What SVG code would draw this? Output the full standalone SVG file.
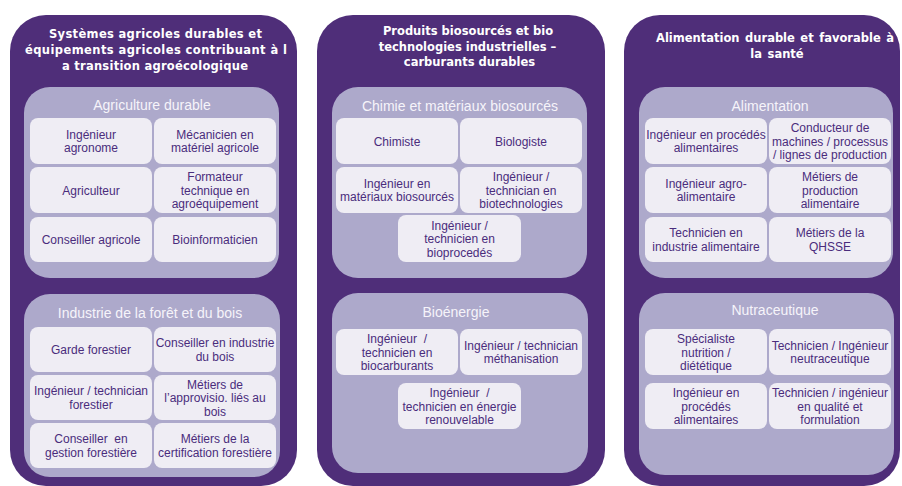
<svg xmlns="http://www.w3.org/2000/svg" width="902" height="486" viewBox="0 0 902 486">
<style>
.outer{fill:#4F2E79}
.inner{fill:#ADA9CB}
.cell{fill:#EFEDF4}
.h1{font-family:"DejaVu Sans",Verdana,sans-serif;font-weight:bold;font-size:11.5px;fill:#FFFFFF}
.h2{font-family:"Liberation Sans",Arial,sans-serif;font-size:14px;fill:#F6F4FA;text-anchor:middle}
.t{font-family:"Liberation Sans",Arial,sans-serif;font-size:12px;fill:#4A2C7C;text-anchor:middle;white-space:pre}
</style>
<rect width="902" height="486" fill="#FFFFFF"/>

<!-- Panel 1 -->
<g id="panel-systemes">
<rect class="outer" x="10" y="15" width="287" height="471" rx="36"/>
<text class="h1" x="49" y="37.5" textLength="213" lengthAdjust="spacing">Systèmes agricoles durables et</text>
<text class="h1" x="25" y="53.5" textLength="262" lengthAdjust="spacing">équipements agricoles contribuant à l</text>
<text class="h1" x="62" y="69.5" textLength="186" lengthAdjust="spacing">a transition agroécologique</text>
</g>
<g id="group-agriculture">
<rect class="inner" x="24" y="87" width="255" height="191" rx="26"/>
<text class="h2" x="152" y="110">Agriculture durable</text>
</g>
<g id="n-ingenieur-agronome"><rect class="cell" x="30" y="118" width="122" height="46" rx="8"/><text class="t"><tspan x="91" y="138.75">Ingénieur</tspan><tspan x="91" y="152.25">agronome</tspan></text></g>
<g id="n-mecanicien"><rect class="cell" x="154" y="118" width="122" height="46" rx="8"/><text class="t"><tspan x="215" y="138.75">Mécanicien en</tspan><tspan x="215" y="152.25">matériel agricole</tspan></text></g>
<g id="n-agriculteur"><rect class="cell" x="30" y="167" width="122" height="46" rx="8"/><text class="t" x="91" y="194.5">Agriculteur</text></g>
<g id="n-formateur"><rect class="cell" x="154" y="167" width="122" height="46" rx="8"/><text class="t"><tspan x="215" y="181">Formateur</tspan><tspan x="215" y="194.5">technique en</tspan><tspan x="215" y="208">agroéquipement</tspan></text></g>
<g id="n-conseiller-agricole"><rect class="cell" x="30" y="217" width="122" height="45" rx="8"/><text class="t" x="91" y="244">Conseiller agricole</text></g>
<g id="n-bioinformaticien"><rect class="cell" x="154" y="217" width="122" height="45" rx="8"/><text class="t" x="215" y="244">Bioinformaticien</text></g>

<g id="group-foret">
<rect class="inner" x="24" y="294" width="256" height="183" rx="26"/>
<text class="h2" x="150" y="318">Industrie de la forêt et du bois</text>
</g>
<g id="n-garde-forestier"><rect class="cell" x="30" y="327" width="122" height="45" rx="8"/><text class="t" x="91" y="354">Garde forestier</text></g>
<g id="n-conseiller-industrie"><rect class="cell" x="154" y="327" width="122" height="45" rx="8"/><text class="t"><tspan x="215" y="347.25">Conseiller en industrie</tspan><tspan x="215" y="360.75">du bois</tspan></text></g>
<g id="n-ingenieur-forestier"><rect class="cell" x="30" y="375" width="122" height="45" rx="8"/><text class="t"><tspan x="91" y="395.25">Ingénieur / technician</tspan><tspan x="91" y="408.75">forestier</tspan></text></g>
<g id="n-metiers-approvisio"><rect class="cell" x="154" y="375" width="122" height="45" rx="8"/><text class="t"><tspan x="215" y="388.5">Métiers de</tspan><tspan x="215" y="402">l’approvisio. liés au</tspan><tspan x="215" y="415.5">bois</tspan></text></g>
<g id="n-conseiller-gestion"><rect class="cell" x="30" y="423" width="122" height="45" rx="8"/><text class="t"><tspan x="91" y="443.25">Conseiller  en</tspan><tspan x="91" y="456.75">gestion forestière</tspan></text></g>
<g id="n-metiers-certification"><rect class="cell" x="154" y="423" width="122" height="45" rx="8"/><text class="t"><tspan x="215" y="443.25">Métiers de la</tspan><tspan x="215" y="456.75">certification forestière</tspan></text></g>

<!-- Panel 2 -->
<g id="panel-produits">
<rect class="outer" x="317" y="15" width="288" height="471" rx="36"/>
<text class="h1" x="468" y="35" text-anchor="middle">Produits  biosourcés  et bio</text>
<text class="h1" x="467.5" y="51" text-anchor="middle">technologies industrielles –</text>
<text class="h1" x="469.5" y="66" text-anchor="middle">carburants durables</text>
</g>
<g id="group-chimie">
<rect class="inner" x="332" y="87" width="255" height="191" rx="26"/>
<text class="h2" x="460" y="111">Chimie et matériaux biosourcés</text>
</g>
<g id="n-chimiste"><rect class="cell" x="336" y="118" width="122" height="46" rx="8"/><text class="t" x="397" y="145.5">Chimiste</text></g>
<g id="n-biologiste"><rect class="cell" x="460" y="118" width="122" height="46" rx="8"/><text class="t" x="521" y="145.5">Biologiste</text></g>
<g id="n-ingenieur-materiaux"><rect class="cell" x="336" y="167" width="122" height="46" rx="8"/><text class="t"><tspan x="397" y="187.75">Ingénieur en</tspan><tspan x="397" y="201.25">matériaux biosourcés</tspan></text></g>
<g id="n-ingenieur-biotech"><rect class="cell" x="460" y="167" width="122" height="46" rx="8"/><text class="t"><tspan x="521" y="181">Ingénieur /</tspan><tspan x="521" y="194.5">technician en</tspan><tspan x="521" y="208">biotechnologies</tspan></text></g>
<g id="n-ingenieur-bioprocedes"><rect class="cell" x="398" y="215" width="123" height="47" rx="8"/><text class="t"><tspan x="459.5" y="229.5">Ingénieur /</tspan><tspan x="459.5" y="243">technicien en</tspan><tspan x="459.5" y="256.5">bioprocedés</tspan></text></g>

<g id="group-bioenergie">
<rect class="inner" x="332" y="293" width="256" height="180" rx="26"/>
<text class="h2" x="456" y="317">Bioénergie</text>
</g>
<g id="n-biocarburants"><rect class="cell" x="336" y="329" width="122" height="46" rx="8"/><text class="t"><tspan x="397" y="343">Ingénieur  /</tspan><tspan x="397" y="356.5">technicien en</tspan><tspan x="397" y="370">biocarburants</tspan></text></g>
<g id="n-methanisation"><rect class="cell" x="460" y="329" width="122" height="46" rx="8"/><text class="t"><tspan x="521" y="349.75">Ingénieur / technician</tspan><tspan x="521" y="363.25">méthanisation</tspan></text></g>
<g id="n-energie-renouvelable"><rect class="cell" x="398" y="383" width="123" height="46" rx="8"/><text class="t"><tspan x="459.5" y="397">Ingénieur  /</tspan><tspan x="459.5" y="410.5">technicien en énergie</tspan><tspan x="459.5" y="424">renouvelable</tspan></text></g>

<!-- Panel 3 -->
<g id="panel-alimentation-durable">
<rect class="outer" x="624" y="15" width="276" height="471" rx="36"/>
<text class="h1" x="775" y="42" text-anchor="middle" style="word-spacing:1.5px">Alimentation durable et favorable à</text>
<text class="h1" x="777" y="57.5" text-anchor="middle" style="word-spacing:1.5px">la santé</text>
</g>
<g id="group-alimentation">
<rect class="inner" x="639" y="87" width="254" height="191" rx="26"/>
<text class="h2" x="770" y="111">Alimentation</text>
</g>
<g id="n-ingenieur-procedes"><rect class="cell" x="645" y="118" width="122" height="46" rx="8"/><text class="t"><tspan x="706" y="138.75">Ingénieur en procédés</tspan><tspan x="706" y="152.25">alimentaires</tspan></text></g>
<g id="n-conducteur"><rect class="cell" x="769" y="118" width="122" height="46" rx="8"/><text class="t"><tspan x="830" y="132">Conducteur de</tspan><tspan x="830" y="145.5">machines / processus</tspan><tspan x="830" y="159">/ lignes de production</tspan></text></g>
<g id="n-ingenieur-agro"><rect class="cell" x="645" y="167" width="122" height="46" rx="8"/><text class="t"><tspan x="706" y="187.75">Ingénieur agro-</tspan><tspan x="706" y="201.25">alimentaire</tspan></text></g>
<g id="n-metiers-production"><rect class="cell" x="769" y="167" width="122" height="46" rx="8"/><text class="t"><tspan x="830" y="181">Métiers de</tspan><tspan x="830" y="194.5">production</tspan><tspan x="830" y="208">alimentaire</tspan></text></g>
<g id="n-technicien-industrie"><rect class="cell" x="645" y="217" width="122" height="45" rx="8"/><text class="t"><tspan x="706" y="237.25">Technicien en</tspan><tspan x="706" y="250.75">industrie alimentaire</tspan></text></g>
<g id="n-metiers-qhsse"><rect class="cell" x="769" y="217" width="122" height="45" rx="8"/><text class="t"><tspan x="830" y="237.25">Métiers de la</tspan><tspan x="830" y="250.75">QHSSE</tspan></text></g>

<g id="group-nutraceutique">
<rect class="inner" x="639" y="293" width="255" height="182" rx="26"/>
<text class="h2" x="775" y="315">Nutraceutique</text>
</g>
<g id="n-specialiste-nutrition"><rect class="cell" x="645" y="329" width="122" height="46" rx="8"/><text class="t"><tspan x="706" y="343">Spécialiste</tspan><tspan x="706" y="356.5">nutrition /</tspan><tspan x="706" y="370">diététique</tspan></text></g>
<g id="n-technicien-neutraceutique"><rect class="cell" x="769" y="329" width="122" height="46" rx="8"/><text class="t"><tspan x="830" y="349.75">Technicien / Ingénieur</tspan><tspan x="830" y="363.25">neutraceutique</tspan></text></g>
<g id="n-ingenieur-procedes-2"><rect class="cell" x="645" y="383" width="122" height="46" rx="8"/><text class="t"><tspan x="706" y="397">Ingénieur en</tspan><tspan x="706" y="410.5">procédés</tspan><tspan x="706" y="424">alimentaires</tspan></text></g>
<g id="n-technicien-qualite"><rect class="cell" x="769" y="383" width="122" height="46" rx="8"/><text class="t"><tspan x="830" y="397">Technicien / ingénieur</tspan><tspan x="830" y="410.5">en qualité et</tspan><tspan x="830" y="424">formulation</tspan></text></g>

<g id="connectors"/>
</svg>
